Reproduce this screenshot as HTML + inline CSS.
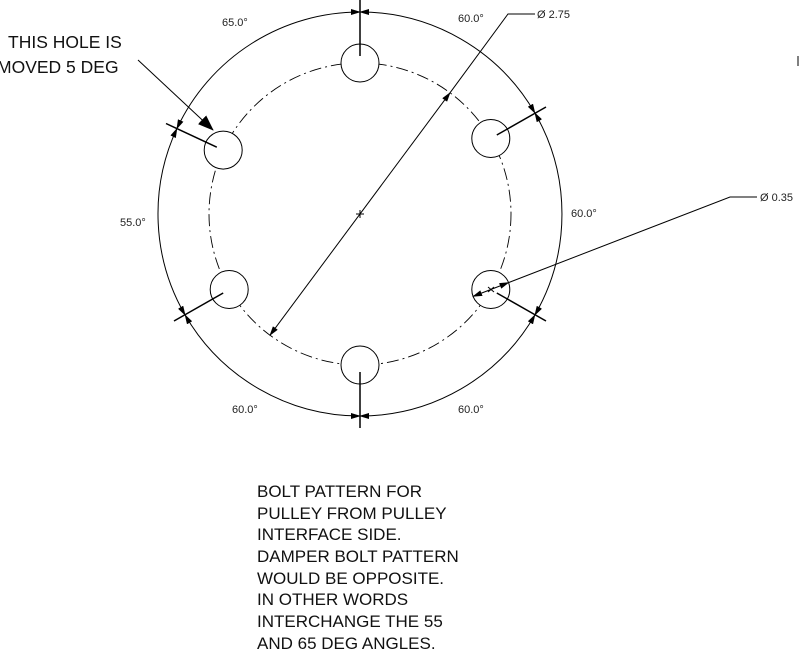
<!DOCTYPE html>
<html><head><meta charset="utf-8"><style>
html,body{margin:0;padding:0;background:#fff;width:800px;height:656px;overflow:hidden}
svg{display:block}
.t{font-family:"Liberation Sans",sans-serif;font-size:11px;fill:#222}
.b{font-family:"Liberation Sans",sans-serif;font-size:17px;fill:#111}
</style></head><body>
<svg width="800" height="656" viewBox="0 0 800 656" xmlns="http://www.w3.org/2000/svg">
<defs>
<marker id="a" markerWidth="10" markerHeight="6" refX="9" refY="3" orient="auto-start-reverse" markerUnits="userSpaceOnUse"><path d="M0,0 L10,3 L0,6 z" fill="#000"/></marker>
<marker id="big" markerWidth="16" markerHeight="12" refX="15" refY="6" orient="auto" markerUnits="userSpaceOnUse"><path d="M0,0 L16,6 L0,12 z" fill="#000"/></marker>
</defs>
<g fill="none" stroke="#000" stroke-width="1">
<circle cx="360" cy="214" r="151" stroke-dasharray="12 4 2 4" stroke-width="0.9"/>
<circle cx="360" cy="63" r="19" fill="#fff"/>
<circle cx="490.8" cy="138.5" r="19" fill="#fff"/>
<circle cx="490.8" cy="289.5" r="19" fill="#fff"/>
<circle cx="360" cy="365" r="19" fill="#fff"/>
<circle cx="229.2" cy="289.5" r="19" fill="#fff"/>
<circle cx="223.2" cy="150.1" r="19" fill="#fff"/>
<path d="M360,12 A202,202 0 0 1 534.9,113" marker-start="url(#a)" marker-end="url(#a)"/>
<path d="M534.9,113 A202,202 0 0 1 534.9,315" marker-start="url(#a)" marker-end="url(#a)"/>
<path d="M534.9,315 A202,202 0 0 1 360,416" marker-start="url(#a)" marker-end="url(#a)"/>
<path d="M360,416 A202,202 0 0 1 185.1,315" marker-start="url(#a)" marker-end="url(#a)"/>
<path d="M185.1,315 A202,202 0 0 1 176.9,128.6" marker-start="url(#a)" marker-end="url(#a)"/>
<path d="M176.9,128.6 A202,202 0 0 1 360,12" marker-start="url(#a)" marker-end="url(#a)"/>
</g>
<g stroke="#000" stroke-width="1.5">
<line x1="360" y1="56" x2="360" y2="0"/>
<line x1="496.8" y1="135" x2="546" y2="107"/>
<line x1="496.8" y1="293" x2="546" y2="321"/>
<line x1="360" y1="372" x2="360" y2="428"/>
<line x1="223.2" y1="293" x2="174" y2="321"/>
<line x1="216.8" y1="147.2" x2="166" y2="123.5"/>
</g>
<g fill="none" stroke="#000" stroke-width="1">
<path d="M270,335.2 L450,92.8" marker-start="url(#a)" marker-end="url(#a)"/>
<path d="M450,92.8 L508,14 L535,14"/>
<path d="M356,214 H364 M360,210 V218" />
<path d="M473.1,296.4 L508.5,282.6" marker-start="url(#a)" marker-end="url(#a)"/>
<path d="M508.5,282.6 L730,197 L757,197"/>
<path d="M488,287 l6,5 M494,287 l-6,5"/>
<path d="M138,60 L213,130" marker-end="url(#big)"/>
<line x1="798" y1="56" x2="798" y2="66"/>
</g>
<text class="t" x="222" y="26">65.0°</text>
<text class="t" x="458" y="22">60.0°</text>
<text class="t" x="537" y="18">Ø 2.75</text>
<text class="t" x="120" y="226">55.0°</text>
<text class="t" x="571" y="217">60.0°</text>
<text class="t" x="760" y="201">Ø 0.35</text>
<text class="t" x="232" y="413">60.0°</text>
<text class="t" x="458" y="413">60.0°</text>
<text class="b" x="8" y="48" style="font-size:17.5px">THIS HOLE IS</text>
<text class="b" x="-3" y="73" style="font-size:17.5px">MOVED 5 DEG</text>
<text class="b" x="257" y="497">BOLT PATTERN FOR</text>
<text class="b" x="257" y="519">PULLEY FROM PULLEY</text>
<text class="b" x="257" y="540">INTERFACE SIDE.</text>
<text class="b" x="257" y="562">DAMPER BOLT PATTERN</text>
<text class="b" x="257" y="584">WOULD BE OPPOSITE.</text>
<text class="b" x="257" y="605">IN OTHER WORDS</text>
<text class="b" x="257" y="627">INTERCHANGE THE 55</text>
<text class="b" x="257" y="649">AND 65 DEG ANGLES.</text>
</svg>
</body></html>
